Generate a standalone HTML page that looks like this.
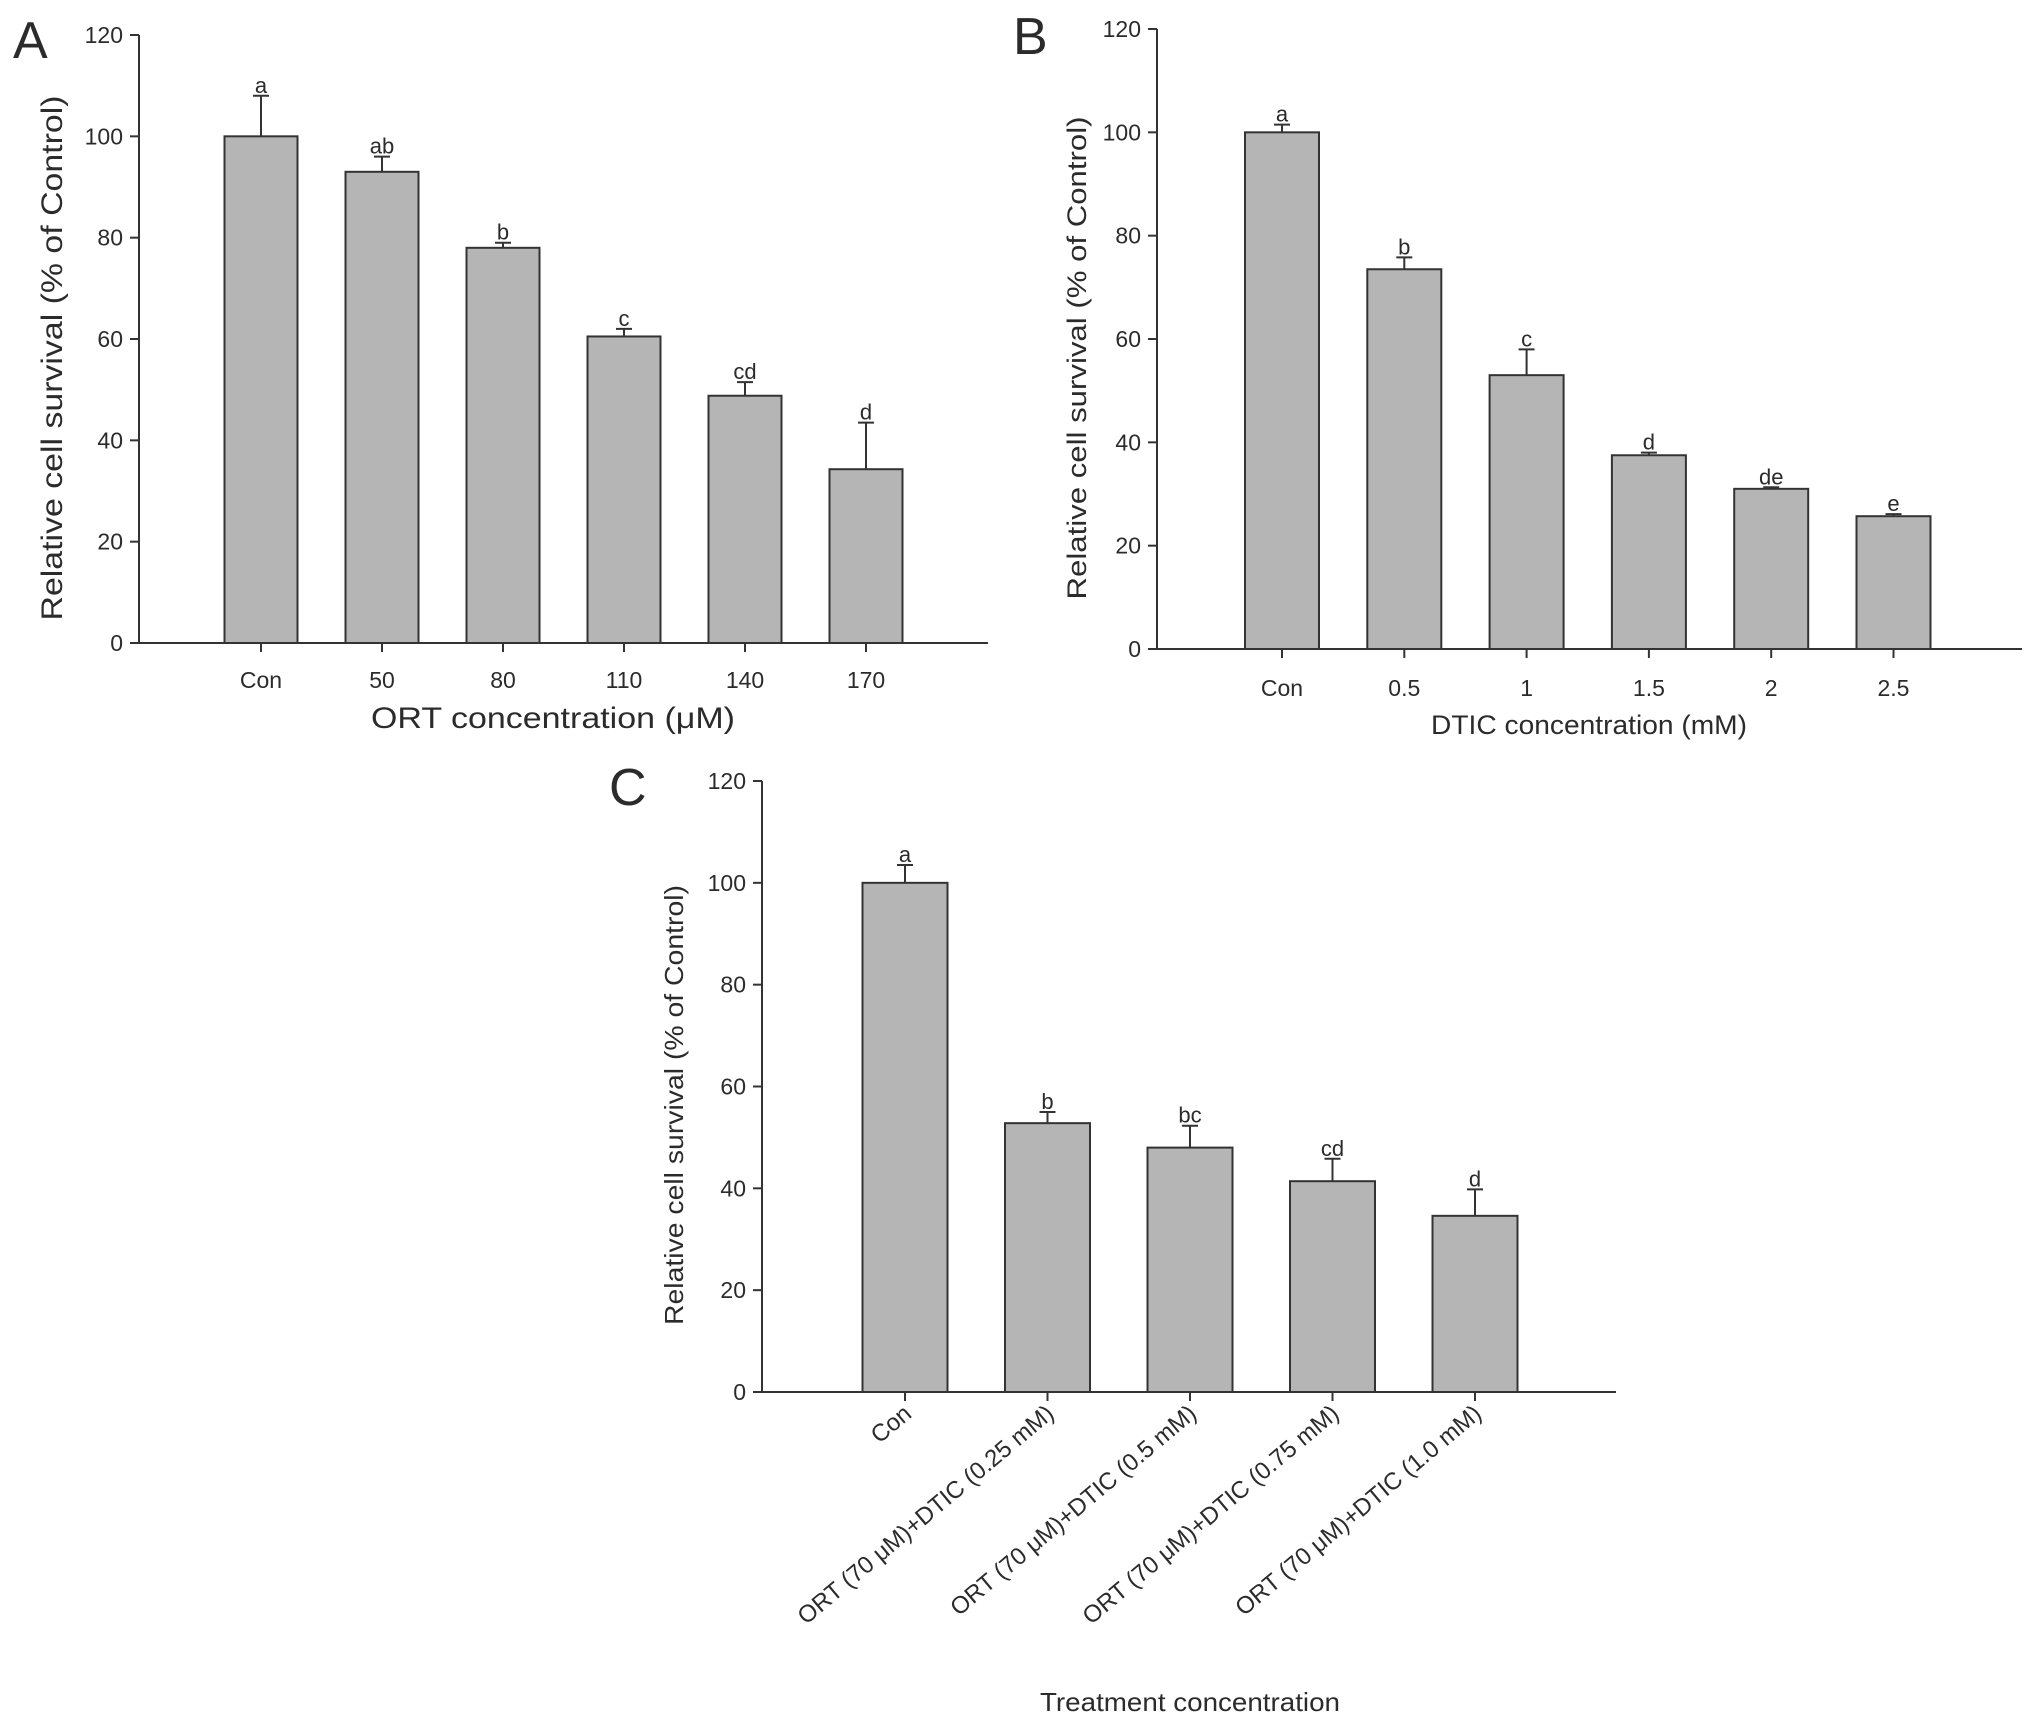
<!DOCTYPE html>
<html><head><meta charset="utf-8"><style>
html,body{margin:0;padding:0;background:#fff;}
svg{display:block;}
text{font-family:"Liberation Sans",Arial,sans-serif;fill:#2b2b2b;}
</style></head><body>
<svg id="fig" width="2031" height="1721" viewBox="0 0 2031 1721"></svg>
<script>
const catsA=["Con","50","80","110","140","170"];
const valsA=[100,93,78,60.5,48.8,34.3];
const errA=[8,3,1,1.5,2.7,9.2];
const sigA=["a","ab","b","c","cd","d"];
const catsB=["Con","0.5","1","1.5","2","2.5"];
const valsB=[100,73.5,53,37.5,31,25.7];
const errB=[1.5,2.3,5,0.5,0.3,0.4];
const sigB=["a","b","c","d","de","e"];
const catsC=["Con","ORT (70 μM)+DTIC (0.25 mM)","ORT (70 μM)+DTIC (0.5 mM)","ORT (70 μM)+DTIC (0.75 mM)","ORT (70 μM)+DTIC (1.0 mM)"];
const valsC=[100,52.8,48,41.4,34.6];
const errC=[3.5,2.2,4.3,4.4,5.2];
const sigC=["a","b","bc","cd","d"];
const yTicks=[0,20,40,60,80,100,120];

const NS="http://www.w3.org/2000/svg";
const svg=document.getElementById('fig');
function mk(tag,attrs,parent,txt){const e=document.createElementNS(NS,tag);for(const k in attrs)e.setAttribute(k,attrs[k]);if(txt!==undefined)e.textContent=txt;(parent||svg).appendChild(e);return e;}

function panel(p){
  const g=mk('g',{});
  
  
  const y=v=>p.y0-(v/120)*(p.y0-p.y120);
  const x=i=>p.c0+i*p.step;
  const L=mk('text',{x:p.lx,y:p.ly,'font-size':p.lfs},g,p.id);
  
  
  const ya=mk('line',{x1:p.ax,y1:p.y120,x2:p.ax,y2:p.y0,stroke:'#333','stroke-width':2},g);
  
  
  const xa=mk('line',{x1:p.ax,y1:p.y0,x2:p.xend,y2:p.y0,stroke:'#333','stroke-width':2},g);
  
  
  yTicks.forEach(t=>{
    mk('line',{x1:p.ax-9,y1:y(t),x2:p.ax,y2:y(t),stroke:'#333','stroke-width':2},g);
    const tl=mk('text',{x:p.ax-16,y:y(t)+8,'font-size':23,'text-anchor':'end'},g,String(t));
    
    
  });
  p.vals.forEach((v,i)=>{
    const cx=x(i);
    const b=mk('rect',{x:cx-p.bw/2,y:y(v),width:p.bw,height:p.y0-y(v),fill:'#b5b5b5',stroke:'#333','stroke-width':2},g);
    
    
    const top=y(v+p.err[i]);
    const e=mk('path',{d:`M${cx} ${y(v)}V${top}M${cx-8} ${top}H${cx+8}`,stroke:'#333','stroke-width':2,fill:'none'},g);
    
    
    const s=mk('text',{x:cx,y:top-3,'font-size':22,'text-anchor':'middle'},g,p.sig[i]);
    
    
    mk('line',{x1:cx,y1:p.y0,x2:cx,y2:p.y0+9,stroke:'#333','stroke-width':2},g);
    let t;
    if(p.rot){
      t=mk('text',{x:cx+8,y:p.y0+24,'font-size':24,'text-anchor':'end',transform:`rotate(-40 ${cx+8} ${p.y0+24})`},g,p.cats[i]);
    }else{
      t=mk('text',{x:cx,y:p.tly,'font-size':23,'text-anchor':'middle'},g,p.cats[i]);
    }
    
    
  });
  const yt=mk('text',{x:0,y:0,'font-size':p.ytfs,'text-anchor':'middle',textLength:p.ytlen,lengthAdjust:'spacingAndGlyphs',transform:`translate(${p.ytx},${p.yty}) rotate(-90)`},g,'Relative cell survival (% of Control)');
  
  
  const xt=mk('text',{x:p.xtx,y:p.xty,'font-size':p.xtfs,'text-anchor':'middle',textLength:p.xtlen,lengthAdjust:'spacingAndGlyphs'},g,p.xtitle);
  
  
}

panel({id:'A',cats:catsA,vals:valsA,err:errA,sig:sigA,ax:139,y0:643,y120:35,xend:988,c0:261,step:121,bw:73,tly:688,
  lx:13,ly:58,lfs:52,ytx:62,yty:358,ytlen:525,ytfs:30,xtx:553,xty:728,xtfs:30,xtlen:364,xtitle:'ORT concentration (μM)'});
panel({id:'B',cats:catsB,vals:valsB,err:errB,sig:sigB,ax:1157,y0:649,y120:29,xend:2022,c0:1282,step:122.3,bw:74,tly:696,
  lx:1013,ly:54,lfs:52,ytx:1086,yty:358,ytlen:483,ytfs:27,xtx:1589,xty:734,xtfs:27,xtlen:316,xtitle:'DTIC concentration (mM)'});
panel({id:'C',cats:catsC,vals:valsC,err:errC,sig:sigC,ax:762,y0:1392,y120:781,xend:1616,c0:905,step:142.5,bw:85,rot:true,
  lx:609,ly:805,lfs:52,ytx:683,yty:1105,ytlen:440,ytfs:26,xtx:1190,xty:1711,xtfs:26,xtlen:300,xtitle:'Treatment concentration'});
</script>
</body></html>
